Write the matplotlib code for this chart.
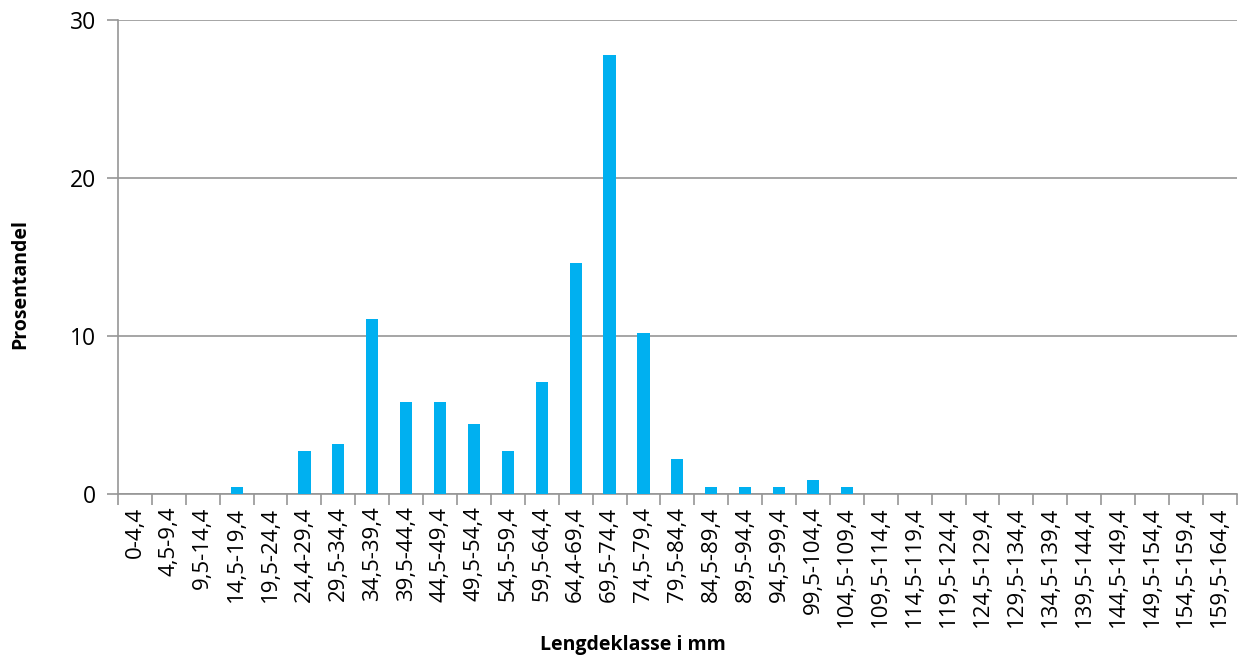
import matplotlib.pyplot as plt
import numpy as np

plt.rcParams['font.family'] = ['Open Sans', 'DejaVu Sans']

# length classes (mm) and share in percent
classes = ['0-4,4', '4,5-9,4', '9,5-14,4', '14,5-19,4', '19,5-24,4', '24,4-29,4',
           '29,5-34,4', '34,5-39,4', '39,5-44,4', '44,5-49,4', '49,5-54,4', '54,5-59,4',
           '59,5-64,4', '64,4-69,4', '69,5-74,4', '74,5-79,4', '79,5-84,4', '84,5-89,4',
           '89,5-94,4', '94,5-99,4', '99,5-104,4', '104,5-109,4', '109,5-114,4',
           '114,5-119,4', '119,5-124,4', '124,5-129,4', '129,5-134,4', '134,5-139,4',
           '139,5-144,4', '144,5-149,4', '149,5-154,4', '154,5-159,4', '159,5-164,4']
percent = [0, 0, 0, 0.45, 0, 2.7, 3.15, 11.05, 5.8, 5.8, 4.45, 2.7,
           7.1, 14.6, 27.8, 10.2, 2.25, 0.45, 0.45, 0.45, 0.9, 0.45,
           0, 0, 0, 0, 0, 0, 0, 0, 0, 0, 0]

fig = plt.figure(figsize=(12.39, 6.57), dpi=100)
ax = fig.add_axes([0.0952, 0.248, 0.903, 0.7216])

x = np.arange(len(classes))
ax.bar(x, percent, width=0.36, color='#00B0F0', zorder=3)

ax.set_xlim(-0.5, len(classes) - 0.5)
ax.set_ylim(0, 30)
ax.set_yticks([0, 10, 20, 30])
ax.yaxis.grid(True, color='#969696', linewidth=1.2, zorder=0)

# category boundaries as ticks, labels centred on bars
ax.set_xticks(np.arange(len(classes) + 1) - 0.5)
ax.set_xticklabels([])
ax.set_xticks(x, minor=True)
ax.set_xticklabels(classes, minor=True, rotation=90, fontsize=16)
ax.tick_params(axis='x', which='minor', length=0, pad=9)
ax.tick_params(axis='x', which='major', length=8, width=1.2, color='#969696')
ax.tick_params(axis='y', length=8, width=1.2, color='#969696', labelsize=16.5, pad=8)

for side in ['top', 'right']:
    ax.spines[side].set_visible(False)
for side in ['left', 'bottom']:
    ax.spines[side].set_color('#969696')
    ax.spines[side].set_linewidth(1.2)

fig.text(633 / 1239, 1 - 645 / 657, 'Lengdeklasse i mm', fontsize=14,
         fontweight='bold', ha='center', va='center')
ax.set_ylabel('Prosentandel', fontsize=14, fontweight='bold')
ax.yaxis.set_label_coords(-0.0785, 0.443)

fig.savefig('out.png', dpi=100)
